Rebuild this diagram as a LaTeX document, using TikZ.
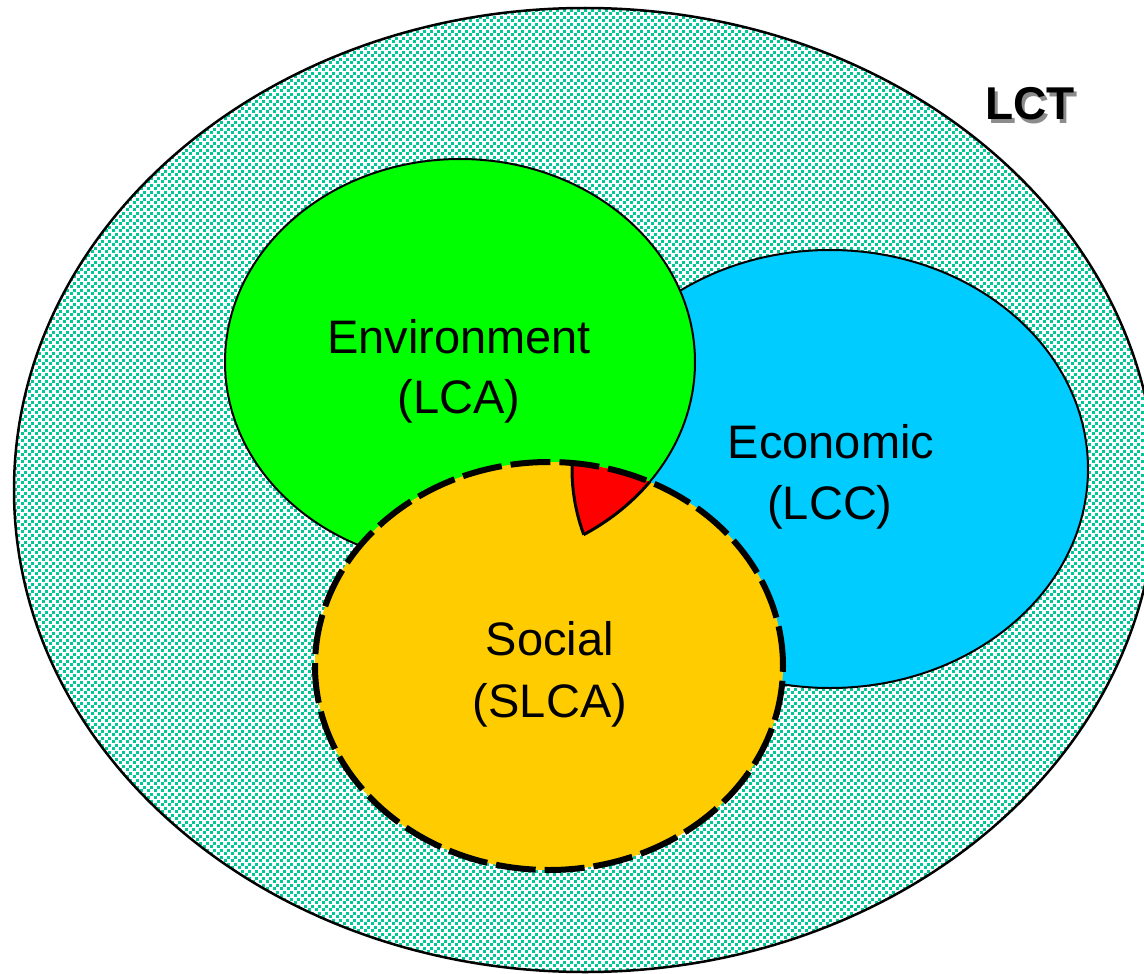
\documentclass[tikz,border=0pt]{standalone}
\usepackage{fontspec}
\setmainfont{Liberation Sans}
\usetikzlibrary{patterns}
\pgfdeclarepatternformonly{tealdots}{\pgfpointorigin}{\pgfpoint{7pt}{7pt}}{\pgfpoint{7pt}{7pt}}{%
  \pgfpathrectangle{\pgfpoint{0pt}{0pt}}{\pgfpoint{3.2pt}{3.2pt}}%
  \pgfpathrectangle{\pgfpoint{3.5pt}{3.5pt}}{\pgfpoint{3.2pt}{3.2pt}}%
  \pgfusepath{fill}}
\definecolor{dotteal}{HTML}{00C896}
\definecolor{envgreen}{HTML}{00FF00}
\definecolor{ecoblue}{HTML}{00CCFF}
\definecolor{socyellow}{HTML}{FFCC00}
\definecolor{trired}{HTML}{FF0000}
\begin{document}
\begin{tikzpicture}[x=1pt,y=-1pt,
  lbl/.style={font=\fontsize{47}{56}\selectfont, anchor=base, inner sep=0pt},
  lctlbl/.style={font=\bfseries\fontsize{46}{50}\selectfont, anchor=base, inner sep=0pt},
  thinborder/.style={draw=black, line width=2pt},
  dashborder/.style={draw=black, line width=6pt, dash pattern=on 40pt off 9pt}]
\useasboundingbox (0,0) rectangle (1144,974);
\clip (0,0) rectangle (1144,974);
% outer LCT ellipse
\path[fill=white] (585,490) ellipse [x radius=571pt, y radius=482pt];
\path[pattern=tealdots, pattern color=dotteal] (585,490) ellipse [x radius=571pt, y radius=482pt];
\draw[line width=2.5pt] (585,490) ellipse [x radius=571pt, y radius=482pt];
% economic
\path[fill=ecoblue, thinborder] (830,469) ellipse [x radius=258pt, y radius=219pt];
% environment
\path[fill=envgreen, thinborder] (460,362) ellipse [x radius=235pt, y radius=203pt];
% social fill
\path[fill=socyellow] (549,666) ellipse [x radius=234pt, y radius=204pt];
% triple intersection
\begin{scope}
  \clip (549,666) ellipse [x radius=234pt, y radius=204pt];
  \clip (460,362) ellipse [x radius=235pt, y radius=203pt];
  \clip (830,469) ellipse [x radius=258pt, y radius=219pt];
  \fill[trired] (400,400) rectangle (800,600);
\end{scope}
\begin{scope}
  \clip (549,666) ellipse [x radius=234pt, y radius=204pt];
  \clip (460,362) ellipse [x radius=235pt, y radius=203pt];
  \draw[line width=3pt] (830,469) ellipse [x radius=258pt, y radius=219pt];
\end{scope}
\begin{scope}
  \clip (549,666) ellipse [x radius=234pt, y radius=204pt];
  \clip (830,469) ellipse [x radius=258pt, y radius=219pt];
  \draw[line width=3pt] (460,362) ellipse [x radius=235pt, y radius=203pt];
\end{scope}
% social dashed border
\draw[dashborder] (549,666) ellipse [x radius=234pt, y radius=204pt];
% labels
\node[lbl] (env1) at (459,353) {Environment};
\node[lbl] (env2) at (459,413) {(LCA)};
\node[lbl] (eco1) at (831,458) {Economic};
\node[lbl] (eco2) at (830,519) {(LCC)};
\node[lbl] (soc1) at (550,655) {Social};
\node[lbl] (soc2) at (550,717) {(SLCA)};
\node[lctlbl, text=black!45] (lctshadow) at (1033,123) {LCT};
\node[lctlbl, text=black] (lct) at (1030,120) {LCT};
\end{tikzpicture}
\end{document}
